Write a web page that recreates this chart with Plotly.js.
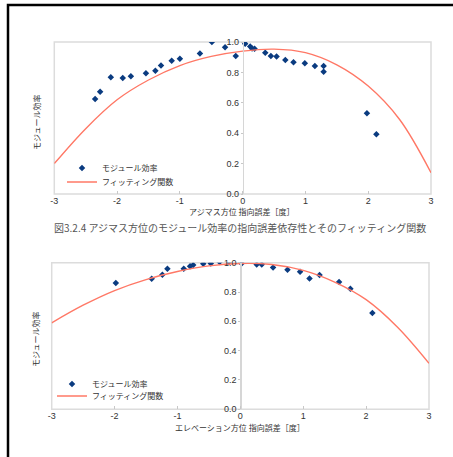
<!DOCTYPE html>
<html>
<head>
<meta charset="utf-8">
<script src="https://cdn.plot.ly/plotly-3.0.1.min.js"></script>
<style>html,body{margin:0;padding:0;background:#fff;}#chart{width:453px;height:457px;}</style>
</head>
<body>
<div id="chart"></div>
<script>
// ---- Data: azimuth (top chart) ----
const azX = [-2.35, -2.27, -2.10, -1.91, -1.78, -1.54, -1.39, -1.30, -1.13, -1.00, -0.68, -0.49, -0.28, -0.11, 0.04, 0.12, 0.15, 0.19, 0.36, 0.45, 0.54, 0.68, 0.81, 0.99, 1.15, 1.29, 1.29, 1.98, 2.13];
const azY = [0.625, 0.673, 0.768, 0.763, 0.774, 0.794, 0.811, 0.846, 0.877, 0.890, 0.925, 1.000, 0.965, 0.908, 0.989, 0.971, 0.958, 0.956, 0.930, 0.908, 0.904, 0.882, 0.866, 0.860, 0.842, 0.842, 0.805, 0.531, 0.393];
const azFitX = [-3, -2.5, -2, -1.5, -1, -0.5, 0, 0.5, 1, 1.5, 2, 2.5, 3];
const azFitY = [0.20, 0.43, 0.62, 0.75, 0.845, 0.905, 0.94, 0.953, 0.93, 0.85, 0.71, 0.49, 0.14];

// ---- Data: elevation (bottom chart) ----
const elX = [-1.98, -1.41, -1.24, -1.16, -0.90, -0.80, -0.75, -0.59, -0.47, -0.33, -0.18, 0.02, 0.26, 0.34, 0.52, 0.75, 0.95, 1.10, 1.26, 1.57, 1.75, 2.10];
const elY = [0.862, 0.891, 0.917, 0.959, 0.959, 0.975, 0.984, 0.993, 0.995, 1.005, 1.007, 0.995, 0.987, 0.988, 0.968, 0.952, 0.939, 0.893, 0.916, 0.868, 0.823, 0.657];
const elFitX = [-3, -2.5, -2, -1.5, -1, -0.5, 0, 0.5, 1, 1.5, 2, 2.5, 3];
const elFitY = [0.59, 0.71, 0.81, 0.885, 0.94, 0.978, 0.995, 0.988, 0.948, 0.868, 0.748, 0.56, 0.314];

// ---- Labels ----
const xTickVals = [-3, -2, -1, 0, 1, 2, 3];
const xTickText = ['-3', '-2', '-1', '0', '1', '2', '3'];
const seriesName = 'モジュール効率';
const fitName = 'フィッティング関数';
const yTitle = 'モジュール効率';
const azXTitle = 'アジマス方位 指向誤差［度］';
const elXTitle = 'エレベーション方位 指向誤差［度］';
const caption = '図3.2.4 アジマス方位のモジュール効率の指向誤差依存性とそのフィッティング関数';

const W = 453, H = 457;
const px = v => v / W;
const py = v => 1 - v / H;

const jp = '"Noto Sans CJK JP", "Noto Sans", sans-serif';
const markerColor = '#0a3b80';
const fitColor = '#ff7866';

const traces = [
  {x: azX, y: azY, type: 'scatter', mode: 'markers', name: seriesName, xaxis: 'x', yaxis: 'y', legend: 'legend',
   marker: {symbol: 'diamond', size: 5, color: markerColor}},
  {x: azFitX, y: azFitY, type: 'scatter', mode: 'lines', name: fitName, xaxis: 'x', yaxis: 'y', legend: 'legend2',
   line: {color: fitColor, width: 1.4, shape: 'spline', smoothing: 1}},
  {x: elX, y: elY, type: 'scatter', mode: 'markers', name: seriesName, xaxis: 'x2', yaxis: 'y2', legend: 'legend3',
   marker: {symbol: 'diamond', size: 5, color: markerColor}},
  {x: elFitX, y: elFitY, type: 'scatter', mode: 'lines', name: fitName, xaxis: 'x2', yaxis: 'y2', legend: 'legend4',
   line: {color: fitColor, width: 1.4, shape: 'spline', smoothing: 1}}
];

const xCommon = {range: [-3, 3], tickvals: xTickVals, ticktext: xTickText, ticks: 'inside', ticklen: 3,
  tickcolor: '#c8c8c8', showgrid: false, zeroline: false, showline: false, fixedrange: true,
  tickfont: {size: 9, color: '#333', family: 'Liberation Sans, Arial, sans-serif'}};
const yCommon = {range: [0, 1], dtick: 0.2, tickformat: '.1f', showgrid: false, zeroline: false,
  showline: true, linecolor: '#d6d6d6', linewidth: 1.5, ticks: 'outside', ticklen: 2, tickcolor: '#c8c8c8',
  fixedrange: true, tickfont: {size: 9, color: '#333', family: 'Liberation Sans, Arial, sans-serif'}};

const legendBase = {xanchor: 'left', yanchor: 'middle', bgcolor: 'rgba(0,0,0,0)',
  font: {family: jp, size: 8, color: '#333'}, itemwidth: 30};

const ann = (text, x, y, size, color, angle) => ({text: text, xref: 'paper', yref: 'paper', x: px(x), y: py(y),
  xanchor: 'center', yanchor: 'middle', textangle: angle || 0, showarrow: false,
  font: {family: jp, size: size, color: color}});

const layout = {
  width: W, height: H,
  margin: {l: 0, r: 0, t: 0, b: 0},
  paper_bgcolor: '#fff', plot_bgcolor: '#fff',
  showlegend: true,
  xaxis: Object.assign({}, xCommon, {domain: [px(54.3), px(431)], anchor: 'y'}),
  yaxis: Object.assign({}, yCommon, {domain: [py(194), py(42)], anchor: 'free', position: px(242.7)}),
  xaxis2: Object.assign({}, xCommon, {domain: [px(51.7), px(429)], anchor: 'y2'}),
  yaxis2: Object.assign({}, yCommon, {domain: [py(409.3), py(262.7)], anchor: 'free', position: px(240.4)}),
  legend: Object.assign({}, legendBase, {x: px(62), y: py(168)}),
  legend2: Object.assign({}, legendBase, {x: px(62), y: py(182)}),
  legend3: Object.assign({}, legendBase, {x: px(52), y: py(384)}),
  legend4: Object.assign({}, legendBase, {x: px(52), y: py(396)}),
  shapes: [
    {type: 'rect', xref: 'paper', yref: 'paper', x0: px(8), x1: 1.05, y0: -0.05, y1: py(5),
     line: {color: '#000', width: 2.5}},
    {type: 'rect', xref: 'x domain', yref: 'y domain', x0: 0, x1: 1, y0: 0, y1: 1,
     line: {color: '#dcdcdc', width: 1.5}, layer: 'below'},
    {type: 'rect', xref: 'x2 domain', yref: 'y2 domain', x0: 0, x1: 1, y0: 0, y1: 1,
     line: {color: '#dcdcdc', width: 1.5}, layer: 'below'}
  ],
  annotations: [
    ann(yTitle, 37, 123, 8, '#333', -90),
    ann(yTitle, 35, 340, 8, '#333', -90),
    ann(azXTitle, 242, 211, 8, '#333'),
    ann(elXTitle, 240, 427, 8, '#333'),
    ann(caption, 240, 227, 10, '#555')
  ]
};

Plotly.newPlot('chart', traces, layout, {staticPlot: true, displayModeBar: false});
</script>
</body>
</html>
